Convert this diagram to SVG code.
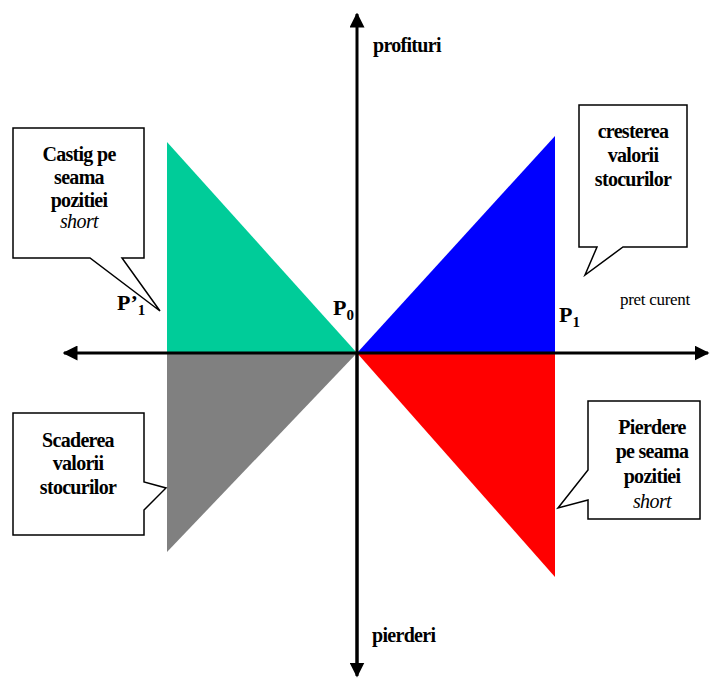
<svg xmlns="http://www.w3.org/2000/svg" width="712" height="684" viewBox="0 0 712 684">
<style>
text{font-family:'Liberation Serif','DejaVu Serif',serif;fill:#000}
.b{font-weight:bold;font-size:20px;letter-spacing:-0.7px;text-anchor:middle}
.i{font-style:italic;font-size:20px;letter-spacing:-0.6px;text-anchor:middle}
.r{font-size:17px;letter-spacing:-0.3px}
.lb{font-weight:bold;font-size:22px}
.call{fill:#fff;stroke:#000;stroke-width:1.5}
.ax{stroke:#000;stroke-width:3;fill:none}
</style>
<defs>
<marker id="ah" viewBox="0 0 10 10" refX="9" refY="5" markerWidth="5" markerHeight="5" orient="auto" markerUnits="strokeWidth">
<path d="M0,0 L10,5 L0,10 Z" fill="#000"/>
</marker>
</defs>
<g id="triangles">
<polygon id="green" points="167,142 167,353 357,353" fill="#00CC99"/>
<polygon id="grey" points="167,353 167,552 357,353" fill="#808080"/>
<polygon id="blue" points="357,353 555,353 555,136" fill="#0000FF"/>
<polygon id="red" points="357,353 555,353 555,577" fill="#FF0000"/>
</g>
<g id="connectors">
<line class="ax" x1="357" y1="670" x2="357" y2="14" marker-end="url(#ah)"/>
<line class="ax" x1="357" y1="353" x2="357" y2="676" marker-end="url(#ah)"/>
<line class="ax" x1="357" y1="353" x2="708" y2="353" marker-end="url(#ah)"/>
<line class="ax" x1="357" y1="353" x2="64" y2="353" marker-end="url(#ah)"/>
</g>
<g id="callout-castig">
<path class="call" d="M13,128 H144 V258 H122 L160,311 L90,258 H13 Z"/>
<text class="b" x="79" y="161">Castig pe</text>
<text class="b" x="79" y="184">seama</text>
<text class="b" x="79" y="207">pozitiei</text>
<text class="i" x="79" y="228">short</text>
</g>
<g id="callout-cresterea">
<path class="call" d="M579,105 H687 V247 H623 L585,275 L597,247 H579 Z"/>
<text class="b" x="633" y="138">cresterea</text>
<text class="b" x="633" y="162">valorii</text>
<text class="b" x="633" y="186">stocurilor</text>
</g>
<g id="callout-scaderea">
<path class="call" d="M13,413 H144 V482 L166,488 L144,510 V535 H13 Z"/>
<text class="b" x="78" y="447">Scaderea</text>
<text class="b" x="78" y="470">valorii</text>
<text class="b" x="78" y="494">stocurilor</text>
</g>
<g id="callout-pierdere">
<path class="call" d="M588,401 H700 V519 H588 V500 L558,508 L588,470 Z"/>
<text class="b" x="652" y="434">Pierdere</text>
<text class="b" x="652" y="458">pe seama</text>
<text class="b" x="652" y="483">pozitiei</text>
<text class="i" x="652" y="508">short</text>
</g>
<g id="labels">
<text class="b" x="373" y="52" style="text-anchor:start">profituri</text>
<text class="b" x="372" y="642" style="text-anchor:start">pierderi</text>
<text class="r" x="620" y="305">pret curent</text>
<text class="lb" x="333" y="315">P<tspan font-size="15" dy="5">0</tspan></text>
<text class="lb" x="559" y="322">P<tspan font-size="15" dy="5">1</tspan></text>
<text class="lb" x="117" y="310">P’<tspan font-size="15" dy="5">1</tspan></text>
</g>
</svg>
